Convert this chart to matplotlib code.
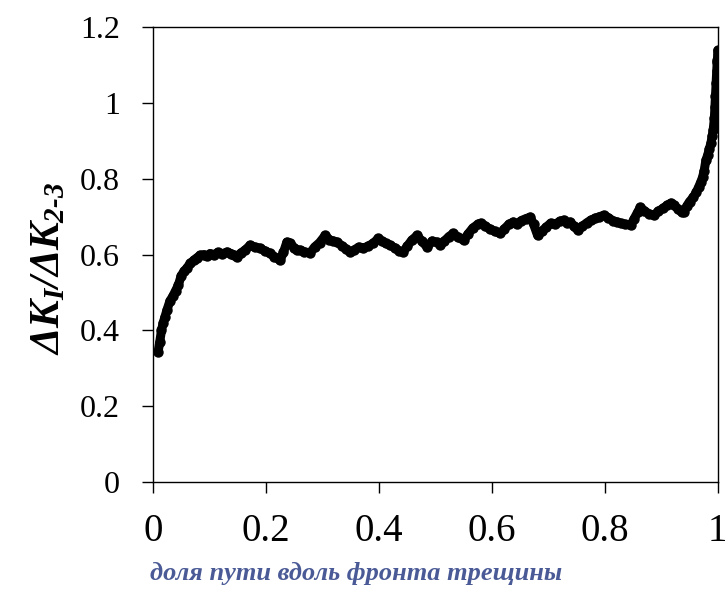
import matplotlib
matplotlib.use('Agg')
import matplotlib.pyplot as plt

# Data
frac = [0.009, 0.012, 0.015, 0.018, 0.021, 0.025, 0.030, 0.035, 0.040, 0.045,
        0.050, 0.055, 0.060, 0.066, 0.072, 0.078, 0.083, 0.090, 0.096, 0.101,
        0.108, 0.115, 0.122, 0.131, 0.138, 0.144, 0.149, 0.156, 0.163, 0.172,
        0.180, 0.190, 0.198, 0.207, 0.215, 0.225, 0.231, 0.237, 0.243, 0.250,
        0.255, 0.261, 0.268, 0.278, 0.286, 0.295, 0.305, 0.312, 0.319, 0.326,
        0.334, 0.342, 0.349, 0.356, 0.364, 0.372, 0.380, 0.390, 0.399, 0.405,
        0.412, 0.420, 0.428, 0.436, 0.443, 0.450, 0.458, 0.468, 0.476, 0.486,
        0.494, 0.503, 0.509, 0.516, 0.524, 0.532, 0.540, 0.550, 0.558, 0.566,
        0.575, 0.580, 0.588, 0.596, 0.605, 0.615, 0.622, 0.630, 0.638, 0.645,
        0.652, 0.660, 0.668, 0.674, 0.681, 0.688, 0.696, 0.704, 0.712, 0.720,
        0.727, 0.733, 0.739, 0.745, 0.752, 0.760, 0.768, 0.775, 0.783, 0.790,
        0.798, 0.806, 0.814, 0.822, 0.828, 0.836, 0.846, 0.852, 0.858, 0.863,
        0.870, 0.878, 0.887, 0.895, 0.903, 0.910, 0.917, 0.923, 0.930, 0.936,
        0.940, 0.945, 0.950, 0.957, 0.962, 0.966, 0.970, 0.973, 0.976, 0.979,
        0.982, 0.985, 0.988, 0.990, 0.992, 0.994, 0.995, 0.996, 0.997, 0.998,
        0.999, 0.9995, 1.000]
ratio = [0.343, 0.370, 0.400, 0.420, 0.435, 0.455, 0.478, 0.490, 0.505, 0.520,
         0.545, 0.556, 0.565, 0.577, 0.585, 0.592, 0.598, 0.600, 0.596, 0.603,
         0.600, 0.606, 0.602, 0.607, 0.603, 0.598, 0.594, 0.605, 0.612, 0.625,
         0.620, 0.617, 0.610, 0.604, 0.595, 0.585, 0.606, 0.633, 0.630, 0.618,
         0.612, 0.612, 0.608, 0.604, 0.620, 0.632, 0.651, 0.640, 0.636, 0.633,
         0.624, 0.615, 0.607, 0.612, 0.620, 0.617, 0.622, 0.630, 0.643, 0.636,
         0.630, 0.625, 0.618, 0.610, 0.607, 0.622, 0.638, 0.651, 0.635, 0.620,
         0.636, 0.633, 0.625, 0.636, 0.648, 0.656, 0.646, 0.638, 0.655, 0.670,
         0.680, 0.683, 0.676, 0.668, 0.662, 0.656, 0.668, 0.680, 0.686, 0.680,
         0.690, 0.695, 0.699, 0.680, 0.651, 0.662, 0.672, 0.683, 0.680, 0.688,
         0.691, 0.684, 0.686, 0.675, 0.665, 0.675, 0.684, 0.691, 0.696, 0.700,
         0.704, 0.698, 0.690, 0.686, 0.683, 0.680, 0.678, 0.695, 0.712, 0.725,
         0.716, 0.708, 0.704, 0.715, 0.722, 0.730, 0.736, 0.730, 0.720, 0.712,
         0.712, 0.728, 0.740, 0.752, 0.765, 0.778, 0.792, 0.804, 0.822, 0.849,
         0.862, 0.878, 0.895, 0.912, 0.930, 0.960, 0.990, 1.020, 1.052, 1.085,
         1.108, 1.113, 1.139]

xticks = [0, 0.2, 0.4, 0.6, 0.8, 1]
xticklabels = ['0', '0.2', '0.4', '0.6', '0.8', '1']
yticks = [0, 0.2, 0.4, 0.6, 0.8, 1.0, 1.2]
yticklabels = ['0', '0.2', '0.4', '0.6', '0.8', '1', '1.2']

plt.rcParams['font.family'] = ['Liberation Serif', 'DejaVu Serif']
plt.rcParams['mathtext.fontset'] = 'custom'
plt.rcParams['mathtext.rm'] = 'Liberation Serif:bold:italic'
plt.rcParams['mathtext.it'] = 'Liberation Serif:bold:italic'
plt.rcParams['mathtext.bf'] = 'Liberation Serif:bold:italic'

fig = plt.figure(figsize=(7.25, 5.93), dpi=100)
ax = fig.add_axes([0.211, 0.187, 0.779, 0.767])

ax.plot(frac, ratio, color='black', lw=6.5, marker='o', ms=6.5,
        solid_joinstyle='round', solid_capstyle='round')

ax.set_xlim(0, 1)
ax.set_ylim(0, 1.2)
ax.set_xticks(xticks)
ax.set_xticklabels(xticklabels, fontsize=28)
ax.set_yticks(yticks)
ax.set_yticklabels(yticklabels, fontsize=23)
ax.tick_params(axis='both', direction='out', length=8, width=1,
               top=False, right=False)
ax.tick_params(axis='y', pad=16)
ax.tick_params(axis='x', pad=14)
for sp in ax.spines.values():
    sp.set_linewidth(1)
    sp.set_color('black')

ax.set_xlabel('доля пути вдоль фронта трещины', fontsize=19,
              fontweight='bold', fontstyle='italic', color='#4a5a96')
ax.xaxis.set_label_coords(0.36, -0.175)
ax.set_ylabel(r'$ΔK_I/ΔK_{2\text{-}3}$', fontsize=30)
ax.yaxis.set_label_coords(-0.15, 0.47)

fig.savefig('out.png', dpi=100)
